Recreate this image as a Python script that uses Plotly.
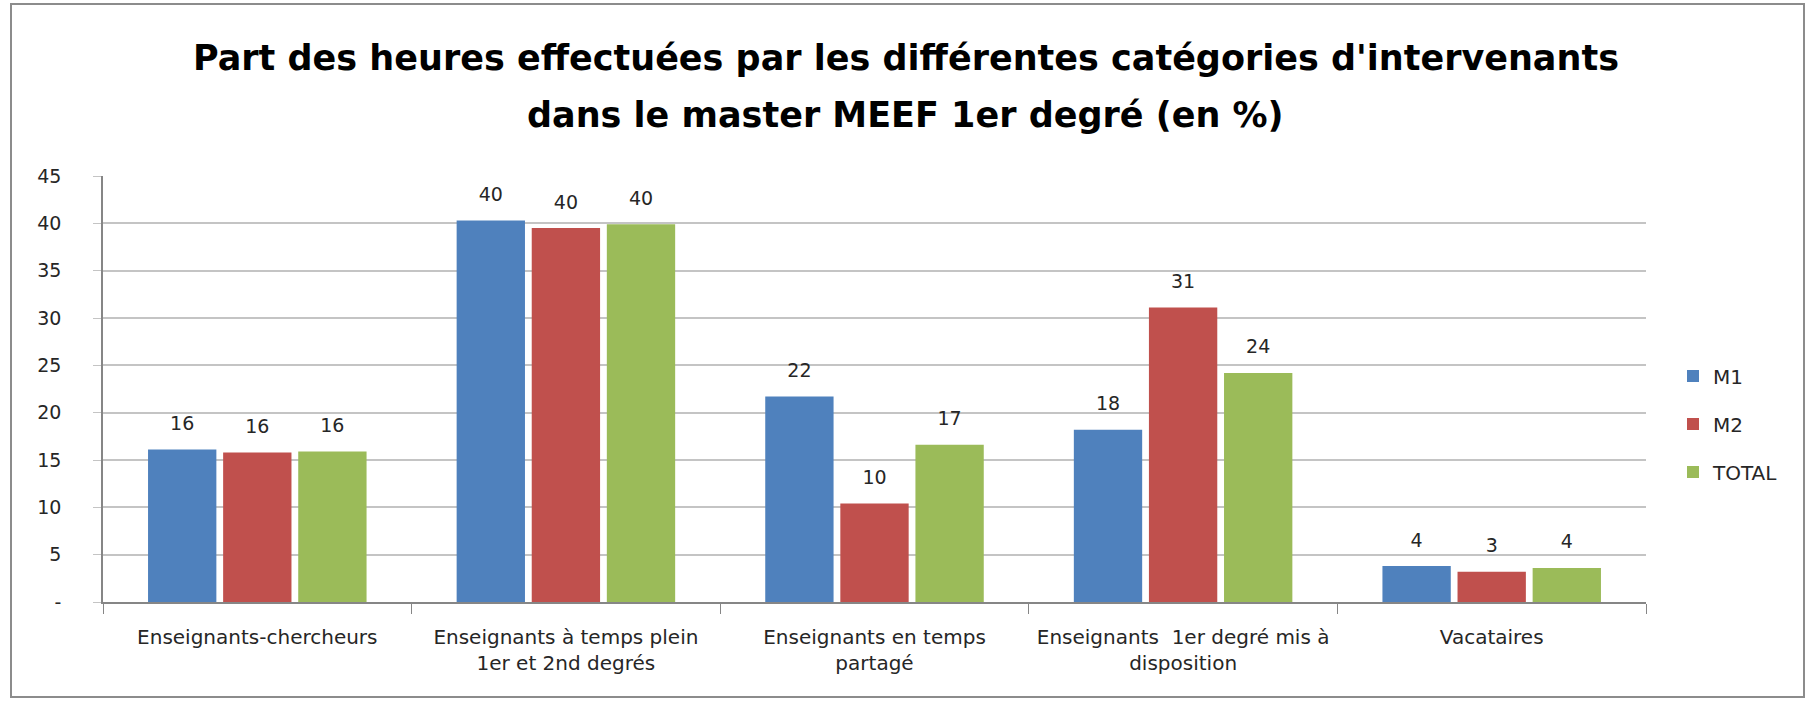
import plotly.graph_objects as go

### Data ###
categories = [
    "Enseignants-chercheurs",
    "Enseignants à temps plein<br>1er et 2nd degrés",
    "Enseignants en temps<br>partagé",
    "Enseignants  1er degré mis à<br>disposition",
    "Vacataires",
]
m1    = [16.1, 40.3, 21.7, 18.2, 3.8]
m2    = [15.8, 39.5, 10.4, 31.1, 3.2]
total = [15.9, 39.9, 16.6, 24.2, 3.6]

series_names  = ["M1", "M2", "TOTAL"]
series_colors = ["#4F81BD", "#C0504D", "#9BBB59"]

y_tickvals = [0, 5, 10, 15, 20, 25, 30, 35, 40, 45]
y_ticktext = ["-", "5", "10", "15", "20", "25", "30", "35", "40", "45"]

title_lines = ["Part des heures effectuées par les différentes catégories d'intervenants",
               "dans le master MEEF 1er degré (en %)"]

### Layout constants ###
W, H = 1809, 701
ML, MR, MT, MB = 103, 163, 176, 99
FONT = "DejaVu Sans, Verdana, sans-serif"
pw, ph = W - ML - MR, H - MT - MB
GAP = 0.27

def px_x(x):  # page pixel -> paper x
    return (x - ML) / pw

def px_y(y):  # page pixel -> paper y
    return (H - MB - y) / ph

fig = go.Figure()
for name, vals, c in zip(series_names, [m1, m2, total], series_colors):
    fig.add_trace(go.Bar(
        x=categories, y=vals, name=name,
        marker_color=c, marker_line_width=0, legendgroup=name,
    ))
# data labels (rounded), aligned on the grouped bars
for name, vals in zip(series_names, [m1, m2, total]):
    fig.add_trace(go.Scatter(
        x=categories, y=vals, mode="markers+text",
        text=[f"{v:.0f}" for v in vals], textposition="top center",
        textfont=dict(size=19, color="#262626", family=FONT),
        marker=dict(size=22, opacity=0), hoverinfo="skip",
        showlegend=False, cliponaxis=False, legendgroup=name,
    ))

fig.update_layout(
    width=W, height=H,
    margin=dict(l=ML, r=MR, t=MT, b=MB),
    paper_bgcolor="white", plot_bgcolor="white",
    font=dict(family=FONT, size=19, color="#262626"),
    barmode="group", bargap=GAP, bargroupgap=0.09,
    scattermode="group", scattergap=GAP,
    legend=dict(x=px_x(1673), xanchor="left", y=px_y(424), yanchor="middle",
                font=dict(size=20, color="#262626", family=FONT),
                tracegroupgap=19, itemwidth=30),
    showlegend=True,
)

for i, line in enumerate(title_lines):
    fig.add_annotation(text="<b>" + line + "</b>", xref="paper", yref="paper",
                       x=px_x(906), y=px_y([58, 115][i]), xanchor="center", yanchor="middle",
                       showarrow=False, font=dict(size=35, color="black", family=FONT))

fig.update_yaxes(range=[0, 45], tickvals=y_tickvals, ticktext=y_ticktext,
                 showgrid=True, gridcolor="#c4c4c4", gridwidth=1.5,
                 showline=True, linecolor="#868686", linewidth=1.5,
                 ticks="outside", ticklen=8, tickcolor="#c4c4c4",
                 ticklabelstandoff=28, zeroline=False,
                 tickfont=dict(size=19, family=FONT))
fig.update_xaxes(showline=True, linecolor="#868686", linewidth=1.5,
                 ticks="outside", tickson="boundaries", ticklen=10, tickcolor="#868686",
                 ticklabelstandoff=16, tickfont=dict(size=20, family=FONT))

# darker line at 40
fig.add_shape(type="line", xref="paper", yref="y", x0=0, x1=1, y0=40, y1=40,
              line=dict(color="#8a8a8a", width=1.5), layer="below")

# outer chart border
fig.add_shape(type="rect", xref="paper", yref="paper",
              x0=px_x(11), x1=px_x(1804), y0=px_y(697), y1=px_y(4),
              line=dict(color="#8c8c8c", width=2), layer="below")

fig.write_html("out.html", config={"displayModeBar": False},
               post_script="document.body.style.margin='0';")
